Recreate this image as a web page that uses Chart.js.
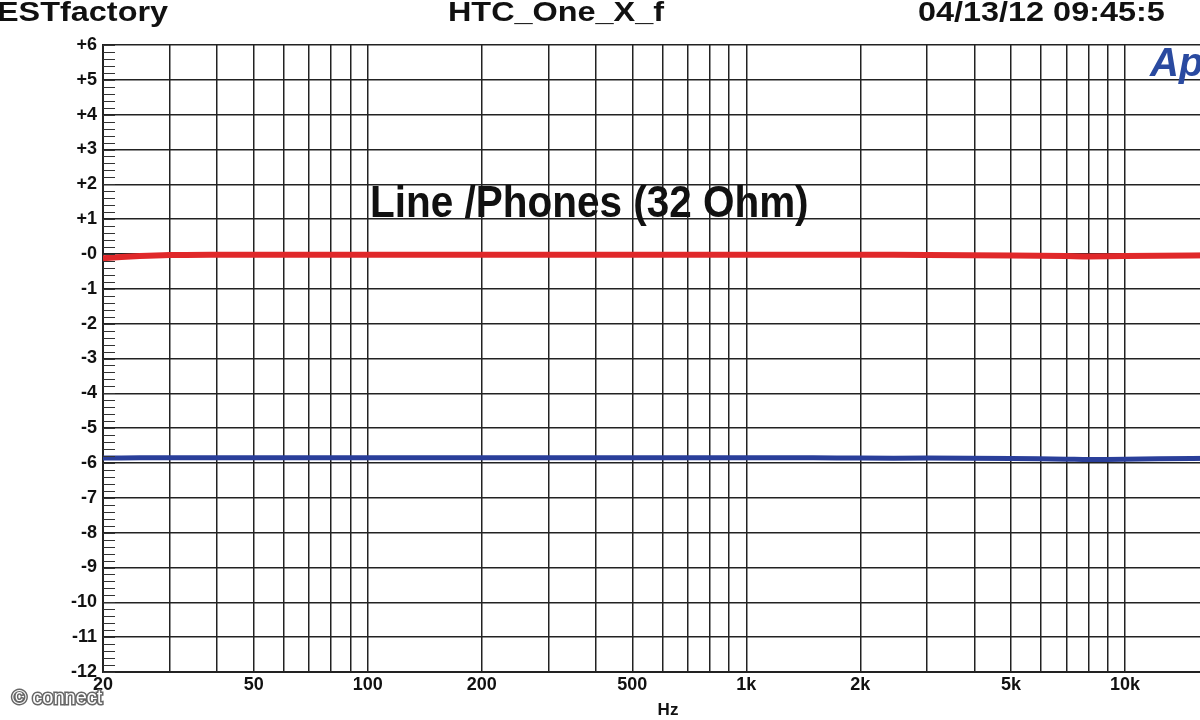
<!DOCTYPE html>
<html><head><meta charset="utf-8">
<script src="https://cdn.jsdelivr.net/npm/chart.js@4"></script>
<style>html,body{margin:0;padding:0;overflow:hidden;background:#fff;width:1200px;height:720px}
#w{position:absolute;left:0;top:0;width:1260px;height:720px}</style></head>
<body><div id="w"><canvas id="c" width="1260" height="720"></canvas></div>
<script>
const freqs=[20,25,30,40,50,70,100,150,200,300,500,700,1000,1500,2000,3000,5000,7000,8000,10000,15000,20000];
const redVals=[-0.12,-0.06,-0.03,-0.02,-0.02,-0.02,-0.02,-0.02,-0.02,-0.02,-0.02,-0.02,-0.02,-0.02,-0.02,-0.03,-0.04,-0.06,-0.07,-0.06,-0.04,-0.03];
const blueVals=[-5.86,-5.85,-5.85,-5.85,-5.85,-5.85,-5.85,-5.85,-5.85,-5.85,-5.85,-5.85,-5.85,-5.85,-5.86,-5.86,-5.87,-5.89,-5.9,-5.89,-5.87,-5.86];
const gridFreqs=[20,30,40,50,60,70,80,90,100,200,300,400,500,600,700,800,900,1000,2000,3000,4000,5000,6000,7000,8000,9000,10000,20000];
const xLabels={20:'20',50:'50',100:'100',200:'200',500:'500',1000:'1k',2000:'2k',5000:'5k',10000:'10k',20000:'20k'};
const yTicks=[6,5,4,3,2,1,0,-1,-2,-3,-4,-5,-6,-7,-8,-9,-10,-11,-12];
function sText(c,t,x,y,sx,align){c.save();c.translate(x,y);c.scale(sx,1);c.textAlign=align;c.fillText(t,0,0);c.restore();}
const deco={id:'deco',afterDraw(ch){const c=ch.ctx,y=ch.scales.y,a=ch.chartArea;c.save();
 c.strokeStyle='#333';c.lineWidth=1;
 for(let v=-12;v<=6.001;v+=0.2){const p=Math.round(y.getPixelForValue(v))+0.5;c.beginPath();c.moveTo(a.left,p);c.lineTo(a.left+12,p);c.stroke();}
 c.fillStyle='#111';c.font='bold 27px "Liberation Sans", Arial';c.textBaseline='middle';
 sText(c,'ESTfactory',-3,14,1.2,'left');sText(c,'HTC_One_X_f',556,14,1.2,'center');sText(c,'04/13/12 09:45:5',918,14,1.2,'left');
 c.font='bold 44px "Liberation Sans", Arial';sText(c,'Line /Phones (32 Ohm)',370,205,0.92,'left');
 c.fillStyle='#2a4aa0';c.font='italic bold 40px "Liberation Sans", Arial';c.textAlign='left';c.fillText('Ap',1150,65);
 c.fillStyle='#111';c.font='bold 17px "Liberation Sans", Arial';c.textAlign='center';c.fillText('Hz',668,710);
 c.font='20px "Liberation Sans", Arial';c.textAlign='left';c.fillStyle='#fff';c.strokeStyle='#666';c.lineWidth=3;
 c.strokeText('© connect',12,698);c.fillText('© connect',12,698);
 c.restore();}};
new Chart(document.getElementById('c'),{type:'line',
 data:{labels:freqs,datasets:[
  {data:freqs.map((f,i)=>({x:f,y:redVals[i]})),borderColor:'#e0282a',borderWidth:6,pointRadius:0,tension:0.3},
  {data:freqs.map((f,i)=>({x:f,y:blueVals[i]})),borderColor:'#2a3f9a',borderWidth:5,pointRadius:0,tension:0.3}]},
 options:{responsive:false,animation:false,layout:{padding:{top:45,right:21,left:0,bottom:0}},
  plugins:{legend:{display:false},tooltip:{enabled:false}},
  scales:{
   x:{type:'logarithmic',min:20,max:20000,
    afterBuildTicks(s){s.ticks=gridFreqs.map(v=>({value:v}));},
    afterFit(s){s.height=48;},
    ticks:{autoSkip:false,maxRotation:0,padding:2,color:'#111',font:{family:'"Liberation Sans", Arial',size:18,weight:'bold'},callback:v=>xLabels[v]||''},
    grid:{color:'#222',lineWidth:1.5,drawTicks:false},border:{color:'#222',width:2}},
   y:{min:-12,max:6,
    afterBuildTicks(s){s.ticks=yTicks.map(v=>({value:v}));},
    afterFit(s){s.width=103;},
    ticks:{padding:6,color:'#111',font:{family:'"Liberation Sans", Arial',size:18,weight:'bold'},callback:v=>v>0?'+'+v:(v===0?'-0':String(v))},
    grid:{color:'#222',lineWidth:1.5,drawTicks:false},border:{color:'#222',width:2}}}},
 plugins:[deco]});
</script></body></html>
